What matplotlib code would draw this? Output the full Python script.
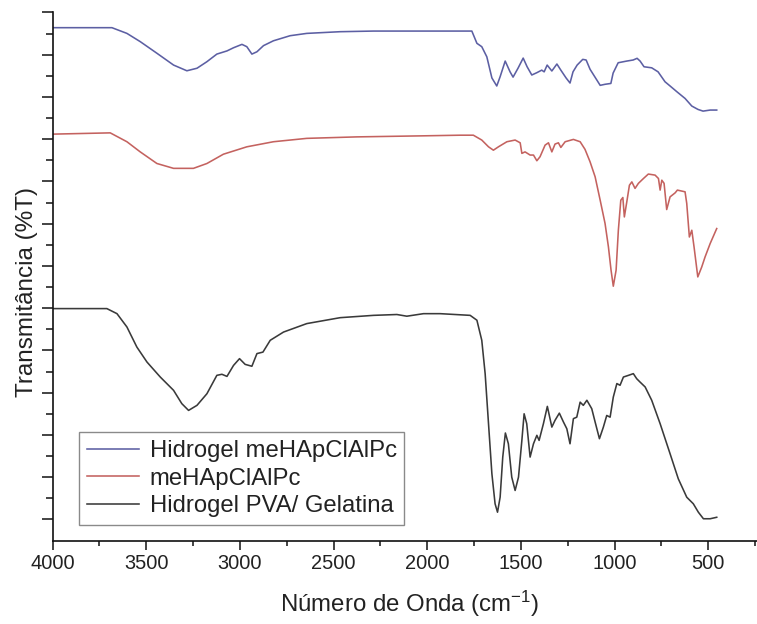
import matplotlib
matplotlib.use("Agg")
import matplotlib.pyplot as plt
from matplotlib.ticker import FixedLocator, MultipleLocator

plt.rcParams['font.family'] = ['Liberation Sans', 'DejaVu Sans']
plt.rcParams['mathtext.fontset'] = 'custom'
plt.rcParams['mathtext.rm'] = 'Liberation Sans'
plt.rcParams['mathtext.it'] = 'Liberation Sans'

# FTIR spectra (wavenumber in cm-1, transmittance in stacked arbitrary units)
wn_hidrogel_mehap = [4000, 3683, 3603, 3532, 3443, 3354, 3283, 3229, 3176, 3123, 3069, 3034,
                     2989, 2963, 2936, 2909, 2874, 2821, 2732, 2643, 2465, 2287, 2020, 1824,
                     1762, 1735, 1709, 1682, 1655, 1629, 1611, 1584, 1558, 1542, 1515, 1488,
                     1467, 1442, 1415, 1389, 1376, 1360, 1335, 1308, 1287, 1259, 1238, 1222,
                     1200, 1170, 1152, 1131, 1104, 1077, 1051, 1020, 1008, 981, 935, 901, 880,
                     864, 843, 802, 768, 731, 704, 668, 624, 588, 555, 528, 490, 455]
t_hidrogel_mehap = [24.28, 24.28, 24.01, 23.62, 23.07, 22.51, 22.24, 22.36, 22.67, 23.03, 23.18,
                    23.33, 23.49, 23.38, 23.03, 23.14, 23.43, 23.66, 23.90, 24.01, 24.09, 24.12,
                    24.12, 24.12, 24.12, 23.54, 23.38, 22.90, 21.90, 21.52, 21.96, 22.70, 22.19,
                    21.94, 22.37, 22.84, 22.43, 22.04, 22.15, 22.27, 22.19, 22.51, 22.23, 22.56,
                    22.27, 21.90, 21.66, 22.19, 22.51, 22.78, 22.75, 22.31, 21.93, 21.55, 21.60,
                    21.64, 22.13, 22.62, 22.70, 22.75, 22.83, 22.70, 22.43, 22.38, 22.19, 21.72,
                    21.52, 21.25, 20.93, 20.57, 20.41, 20.33, 20.38, 20.38]

wn_mehap = [4000, 3692, 3603, 3532, 3443, 3354, 3248, 3176, 3088, 2963, 2821, 2643, 2376, 2020,
            1824, 1754, 1709, 1673, 1647, 1620, 1575, 1531, 1504, 1495, 1478, 1451, 1433, 1415,
            1398, 1371, 1353, 1335, 1318, 1300, 1287, 1264, 1220, 1184, 1158, 1131, 1104, 1077,
            1051, 1033, 1019, 1007, 992, 980, 967, 956, 948, 935, 921, 908, 891, 873, 846, 820,
            784, 766, 757, 748, 736, 722, 704, 677, 665, 624, 615, 601, 588, 576, 556, 535, 517,
            490, 455]
t_mehap = [19.24, 19.30, 18.88, 18.40, 17.85, 17.62, 17.62, 17.85, 18.29, 18.64, 18.88, 19.04,
           19.11, 19.16, 19.19, 19.19, 18.96, 18.64, 18.48, 18.64, 18.88, 18.96, 18.83, 18.33,
           18.40, 18.25, 18.25, 17.98, 18.17, 18.72, 18.83, 18.40, 18.77, 18.83, 18.61, 18.88,
           18.99, 18.88, 18.52, 17.93, 17.22, 16.11, 15.01, 13.90, 12.80, 12.04, 12.80, 14.69,
           16.11, 16.24, 15.32, 16.03, 16.82, 16.98, 16.67, 16.91, 17.14, 17.35, 17.30, 17.14,
           16.59, 17.06, 16.91, 15.67, 16.27, 16.46, 16.59, 16.51, 15.96, 14.37, 14.69, 13.90,
           12.48, 12.95, 13.43, 14.06, 14.77]

wn_pva_gel = [4000, 3710, 3656, 3603, 3550, 3496, 3425, 3354, 3310, 3274, 3229, 3176, 3123,
              3096, 3069, 3034, 3002, 2972, 2936, 2909, 2877, 2838, 2767, 2643, 2465, 2287,
              2162, 2109, 2020, 1931, 1771, 1735, 1709, 1691, 1673, 1655, 1638, 1625, 1611,
              1597, 1583, 1567, 1549, 1531, 1513, 1495, 1483, 1469, 1451, 1433, 1415, 1403,
              1380, 1359, 1335, 1318, 1295, 1273, 1255, 1238, 1220, 1202, 1184, 1167, 1148,
              1122, 1104, 1081, 1060, 1042, 1024, 1007, 988, 971, 953, 926, 900, 882, 864,
              837, 802, 757, 704, 660, 615, 580, 553, 526, 490, 455]
t_pva_gel = [10.98, 10.98, 10.74, 10.11, 9.16, 8.45, 7.74, 7.11, 6.48, 6.16, 6.40, 6.95, 7.82,
             7.87, 7.77, 8.29, 8.61, 8.34, 8.25, 8.85, 8.92, 9.48, 9.87, 10.27, 10.55, 10.66,
             10.70, 10.62, 10.74, 10.74, 10.66, 10.43, 9.48, 7.90, 5.53, 3.16, 1.74, 1.34, 2.05,
             3.95, 5.09, 4.58, 3.00, 2.37, 3.00, 4.74, 6.00, 5.53, 3.95, 4.58, 4.98, 4.74, 5.53,
             6.35, 5.37, 5.69, 6.03, 5.61, 5.29, 4.58, 5.77, 5.84, 6.55, 6.40, 6.64, 6.24, 5.61,
             4.82, 5.37, 5.92, 5.84, 6.79, 7.43, 7.35, 7.74, 7.82, 7.90, 7.66, 7.50, 7.27, 6.64,
             5.53, 4.11, 2.92, 2.05, 1.74, 1.34, 1.03, 1.03, 1.10]

series_labels = ["Hidrogel meHApClAlPc", "meHApClAlPc", "Hidrogel PVA/ Gelatina"]
series_colors = ["#5c5fa3", "#c4625f", "#3a3a3a"]
x_ticks = [4000, 3500, 3000, 2500, 2000, 1500, 1000, 500]

fig = plt.figure(figsize=(7.57, 6.24), dpi=100)
ax = fig.add_axes([0.0694, 0.1338, 0.9306, 0.8462])

for wn, t, lab, col in zip([wn_hidrogel_mehap, wn_mehap, wn_pva_gel],
                           [t_hidrogel_mehap, t_mehap, t_pva_gel],
                           series_labels, series_colors):
    ax.plot(wn, t, color=col, lw=1.15, label=lab)

ax.set_xlim(4000, 240)
ax.set_ylim(0, 25)

for side in ("top", "right"):
    ax.spines[side].set_visible(False)
for side in ("left", "bottom"):
    ax.spines[side].set_linewidth(1.2)
    ax.spines[side].set_color("#111111")

ax.xaxis.set_major_locator(FixedLocator(x_ticks))
ax.xaxis.set_minor_locator(MultipleLocator(250))
ax.yaxis.set_major_locator(FixedLocator(list(range(1, 26, 2))))
ax.yaxis.set_minor_locator(FixedLocator(list(range(2, 25, 2))))
ax.tick_params(axis="x", which="major", direction="out", length=6.5, width=1.1,
               labelsize=14.4, pad=3.5, colors="#111111", labelcolor="#222222")
ax.tick_params(axis="x", which="minor", direction="out", length=3.3, width=1.1, colors="#111111")
ax.tick_params(axis="y", which="major", direction="out", length=7.7, width=1.1,
               labelleft=False, colors="#111111")
ax.tick_params(axis="y", which="minor", direction="out", length=4.8, width=1.1, colors="#111111")

fig.text(0.5416, 0.032, r"Número de Onda (cm$^{\mathregular{-1}}$)", fontsize=17.3,
         ha="center", va="center", color="#222222")
fig.text(0.0357, 0.532, "Transmitância (%T)", fontsize=17.5, rotation=90,
         ha="center", va="center", color="#222222")

leg = ax.legend(loc="upper left", bbox_to_anchor=(0.1044, 0.3077), bbox_transform=fig.transFigure,
                fontsize=17.2, frameon=True, fancybox=False, framealpha=1, borderaxespad=0,
                borderpad=0.33, labelspacing=0.24, handlelength=2.2, handletextpad=0.42)
leg.get_frame().set_edgecolor("#8a8a8a")
leg.get_frame().set_linewidth(1.0)
for txt in leg.get_texts():
    txt.set_color("#222222")

fig.savefig("out.png", dpi=100)
